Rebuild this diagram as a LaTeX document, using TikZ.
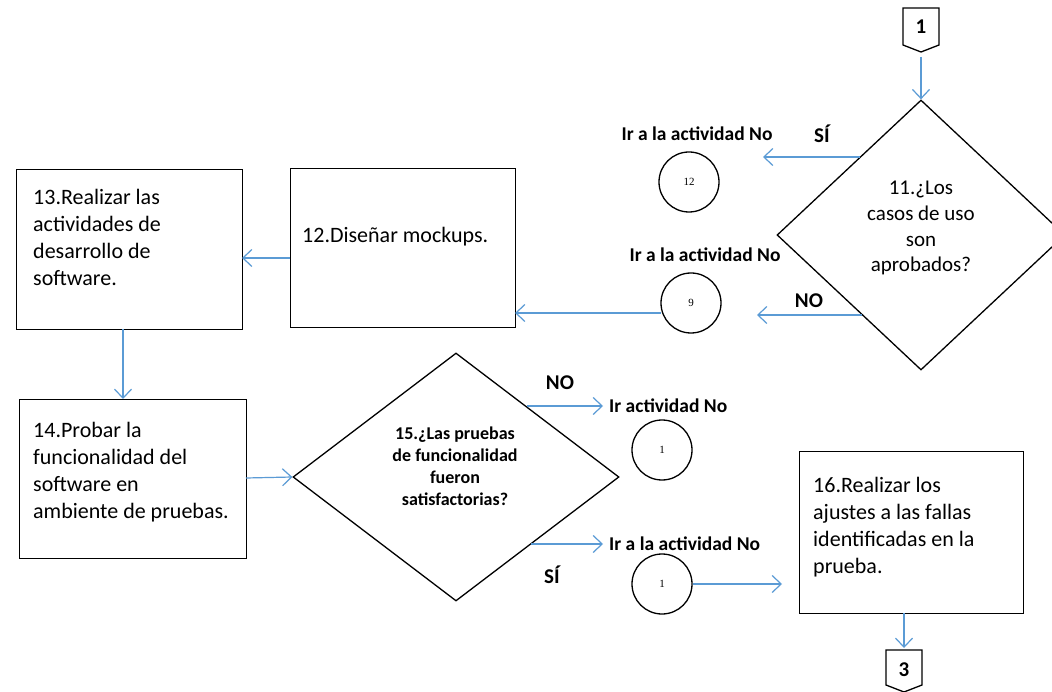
\documentclass[tikz,border=0pt]{standalone}
\usepackage{fontspec}
\setmainfont{Carlito}
\newfontfamily\numfont{Liberation Serif}
\usetikzlibrary{arrows.meta,shapes.geometric}
\definecolor{arrowblue}{RGB}{91,155,213}
\tikzset{
  box/.style={draw=black, line width=1.3pt, rectangle, inner sep=0pt, anchor=north west},
  dia/.style={draw=black, line width=1.3pt, diamond, inner sep=0pt},
  circ/.style={draw=black, line width=1.3pt, circle, minimum size=60pt, inner sep=0pt, font=\numfont\fontsize{11}{12}\selectfont},
  boxtext/.style={anchor=base west, inner sep=0pt, align=left, font=\fontsize{22}{27}\selectfont},
  lbl/.style={inner sep=0pt, font=\bfseries\fontsize{19.5}{22}\selectfont},
  yn/.style={inner sep=0pt, anchor=base, font=\bfseries\fontsize{21}{24}\selectfont},
  arr/.style={draw=arrowblue, line width=1.2pt, -{Straight Barb[length=9pt,width=17pt]}},
  conn/.style={draw=black, line width=1.3pt, fill=white}
}
\begin{document}
\begin{tikzpicture}[x=1pt,y=-1pt]
\useasboundingbox[fill=white] (0,0) rectangle (1052,692);
\clip (0,0) rectangle (1052,692);

% off-page connector 1
\draw[conn] (903,8) -- (939,8) -- (939,45) -- (921,52) -- (903,45) -- cycle;
\node[inner sep=0pt, anchor=base, font=\bfseries\fontsize{21}{24}\selectfont] (c1) at (921,34) {1};
\coordinate (c1tip) at (921,57);

% decision 11
\node[dia, minimum width=288pt, minimum height=270pt] (d11) at (921,235) {};
\node[inner sep=0pt, anchor=base, align=center, font=\fontsize{21}{25.7}\selectfont] (t11) at (921,272) {11.¿Los\\casos de uso\\son\\aprobados?};
\coordinate (d11si) at (860,157);
\coordinate (d11no) at (862,315);
\coordinate (siend) at (763,157);
\coordinate (noend) at (757,315);

\node[yn] (si11) at (822,143) {SÍ};
\node[yn] (no11) at (809,308) {NO};

\node[lbl, anchor=base] (l12) at (697,141) {Ir a la actividad No};
\node[circ] (k12) at (689,182) {12};
\node[lbl, anchor=base] (l9) at (705,262) {Ir a la actividad No};
\node[circ] (k9) at (691,303) {9};
\coordinate (k9out) at (661,313);

% boxes 12, 13
\node[box, minimum width=225pt, minimum height=159pt] (b12) at (290,168) {};
\node[boxtext] (t12) at (302,243) {12.Diseñar mockups.};
\node[box, minimum width=226pt, minimum height=160pt] (b13) at (16,169) {};
\node[boxtext] (t13) at (33,286) {13.Realizar las\\actividades de\\desarrollo de\\software.};

\coordinate (b12in) at (515,313);
\coordinate (b12out) at (290,258);
\coordinate (b13in) at (242,258);
\coordinate (b13out) at (123,329);

% box 14
\node[box, minimum width=227pt, minimum height=159pt] (b14) at (19,399) {};
\node[boxtext] (t14) at (33,518) {14.Probar la\\funcionalidad del\\software en\\ambiente de pruebas.};
\coordinate (b14in) at (123,399);
\coordinate (b14out) at (246,478);

% decision 15
\node[dia, minimum width=326pt, minimum height=248pt] (d15) at (456,477) {};
\node[inner sep=0pt, anchor=base, align=center, font=\bfseries\fontsize{18}{22}\selectfont] (t15) at (455,505) {15.¿Las pruebas\\de funcionalidad\\fueron\\satisfactorias?};
\coordinate (d15no) at (527,406);
\coordinate (d15si) at (531,544);
\coordinate (no15end) at (603,406);
\coordinate (si15end) at (603,544);

\node[yn] (no15) at (560,390) {NO};
\node[yn] (si15) at (552,583) {SÍ};

\node[lbl, anchor=base west] (l1a) at (609,413) {Ir actividad No};
\node[circ] (k1a) at (662,450) {1};
\node[lbl, anchor=base west] (l1b) at (609,550) {Ir a la actividad No};
\node[circ] (k1b) at (662,584) {1};
\coordinate (b16in) at (782,584);

% box 16
\node[box, minimum width=224pt, minimum height=162pt] (b16) at (799,451) {};
\node[boxtext] (t16) at (813,573) {16.Realizar los\\ajustes a las fallas\\identificadas en la\\prueba.};
\coordinate (b16out) at (904,613);
\coordinate (c3in) at (904,648);

% off-page connector 3
\draw[conn] (886,650) -- (922,650) -- (922,685) -- (904,692) -- (886,685) -- cycle;
\node[inner sep=0pt, anchor=base, font=\bfseries\fontsize{21}{24}\selectfont] (c3) at (904,676) {3};

% connectors
\draw[arr] (c1tip) -- (d11.north);
\draw[arr] (d11si) -- (siend);
\draw[arr] (d11no) -- (noend);
\draw[arr] (k9out) -- (b12in);
\draw[arr] (b12out) -- (b13in);
\draw[arr] (b13out) -- (b14in);
\draw[arr] (b14out) -- (d15.west);
\draw[arr] (d15no) -- (no15end);
\draw[arr] (d15si) -- (si15end);
\draw[arr] (k1b.east) -- (b16in);
\draw[arr] (b16out) -- (c3in);
\end{tikzpicture}
\end{document}
